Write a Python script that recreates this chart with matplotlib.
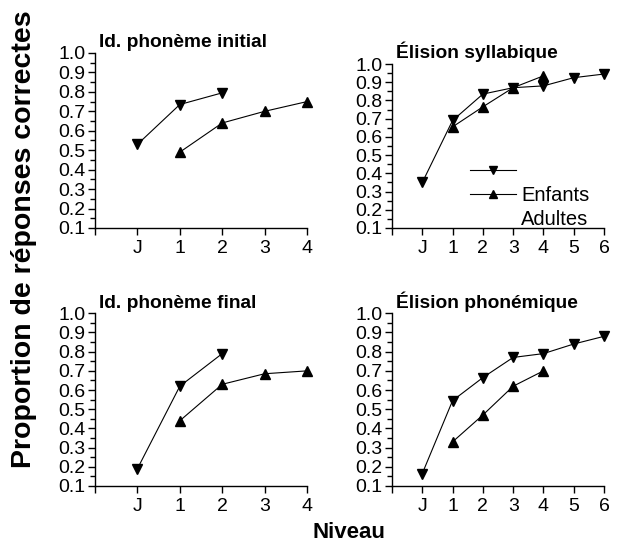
import numpy as np
import matplotlib.pyplot as plt
from matplotlib.lines import Line2D
from matplotlib.ticker import MultipleLocator

plt.rcParams['font.family'] = ['Liberation Sans', 'DejaVu Sans']

# niveaux : J = 0, puis 1..6
titles = ["Id. phonème initial", "Élision syllabique",
          "Id. phonème final", "Élision phonémique"]
tick_labels_4 = ["", "J", "1", "2", "3", "4"]
tick_labels_6 = ["", "J", "1", "2", "3", "4", "5", "6"]

# Id. phonème initial
init_enf_x = [0, 1, 2]
init_enf_y = [0.53, 0.735, 0.795]
init_adu_x = [1, 2, 3, 4]
init_adu_y = [0.49, 0.64, 0.70, 0.75]

# Élision syllabique
syl_enf_x = [0, 1, 2, 3, 4, 5, 6]
syl_enf_y = [0.35, 0.69, 0.835, 0.87, 0.88, 0.925, 0.945]
syl_adu_x = [1, 2, 3, 4]
syl_adu_y = [0.655, 0.765, 0.87, 0.935]

# Id. phonème final
fin_enf_x = [0, 1, 2]
fin_enf_y = [0.19, 0.62, 0.79]
fin_adu_x = [1, 2, 3, 4]
fin_adu_y = [0.44, 0.63, 0.685, 0.70]

# Élision phonémique
pho_enf_x = [0, 1, 2, 3, 4, 5, 6]
pho_enf_y = [0.165, 0.545, 0.665, 0.77, 0.79, 0.84, 0.88]
pho_adu_x = [1, 2, 3, 4]
pho_adu_y = [0.33, 0.47, 0.62, 0.70]

fig = plt.figure(figsize=(6.19, 5.49), dpi=100)

# [left, bottom, width, height] in figure fraction
boxes = [
    [0.1535, 0.5847, 0.3425, 0.3188],
    [0.6333, 0.5847, 0.3425, 0.2987],
    [0.1535, 0.1148, 0.3425, 0.3145],
    [0.6333, 0.1148, 0.3425, 0.3145],
]
data = [
    (init_enf_x, init_enf_y, init_adu_x, init_adu_y, tick_labels_4),
    (syl_enf_x, syl_enf_y, syl_adu_x, syl_adu_y, tick_labels_6),
    (fin_enf_x, fin_enf_y, fin_adu_x, fin_adu_y, tick_labels_4),
    (pho_enf_x, pho_enf_y, pho_adu_x, pho_adu_y, tick_labels_6),
]

axes = []
for box, title, (ex, ey, ax_, ay, tl) in zip(boxes, titles, data):
    ax = fig.add_axes(box)
    axes.append(ax)
    ax.plot(ex, ey, color='black', lw=0.8, marker='v', ms=7.5, clip_on=False)
    ax.plot(ax_, ay, color='black', lw=0.8, marker='^', ms=7.5, clip_on=False)
    nx = len(tl) - 1
    ax.set_xlim(-1, nx - 1)
    ax.set_ylim(0.1, 1.0)
    ax.set_xticks(np.arange(-1, nx))
    ax.set_xticklabels(tl)
    ax.set_yticks(np.arange(0.1, 1.01, 0.1))
    ax.set_yticklabels([f"{v:.1f}" for v in np.arange(0.1, 1.01, 0.1)])
    ax.yaxis.set_minor_locator(MultipleLocator(0.05))
    for s in ['top', 'right']:
        ax.spines[s].set_visible(False)
    for s in ['left', 'bottom']:
        ax.spines[s].set_linewidth(1.0)
    ax.tick_params(axis='both', which='major', length=5, width=1.0,
                   labelsize=14, pad=2, colors='black')
    ax.tick_params(axis='x', which='major', pad=4)
    ax.tick_params(axis='y', which='minor', length=3.5, width=1.0)
    ax.set_title(title, fontsize=13.8, fontweight='bold', loc='left', pad=4,
                 x=0.02)

# legende (reproduite telle quelle, etiquettes decalees d'une ligne)
h1 = Line2D([], [], color='black', lw=0.8, marker='v', ms=7.5)
h2 = Line2D([], [], color='black', lw=0.8, marker='^', ms=7.5)
h3 = Line2D([], [], linestyle='none', marker='none')
fig.legend([h1, h2, h3], ["", "Enfants", "Adultes"],
           loc='upper left', bbox_to_anchor=(470 / 619, 1 - 162 / 549),
           frameon=False, fontsize=14.5, handlelength=2.3,
           handletextpad=0.25, labelspacing=0.25, borderpad=0,
           borderaxespad=0, markerscale=0.75)

fig.text(24 / 619, 1 - 239 / 549, "Proportion de réponses correctes",
         rotation=90, fontsize=20.5, fontweight='bold', ha='center', va='center')
fig.text(349 / 619, 1 - 533 / 549, "Niveau", fontsize=16, fontweight='bold',
         ha='center', va='center')

fig.savefig("out.png", dpi=100)
